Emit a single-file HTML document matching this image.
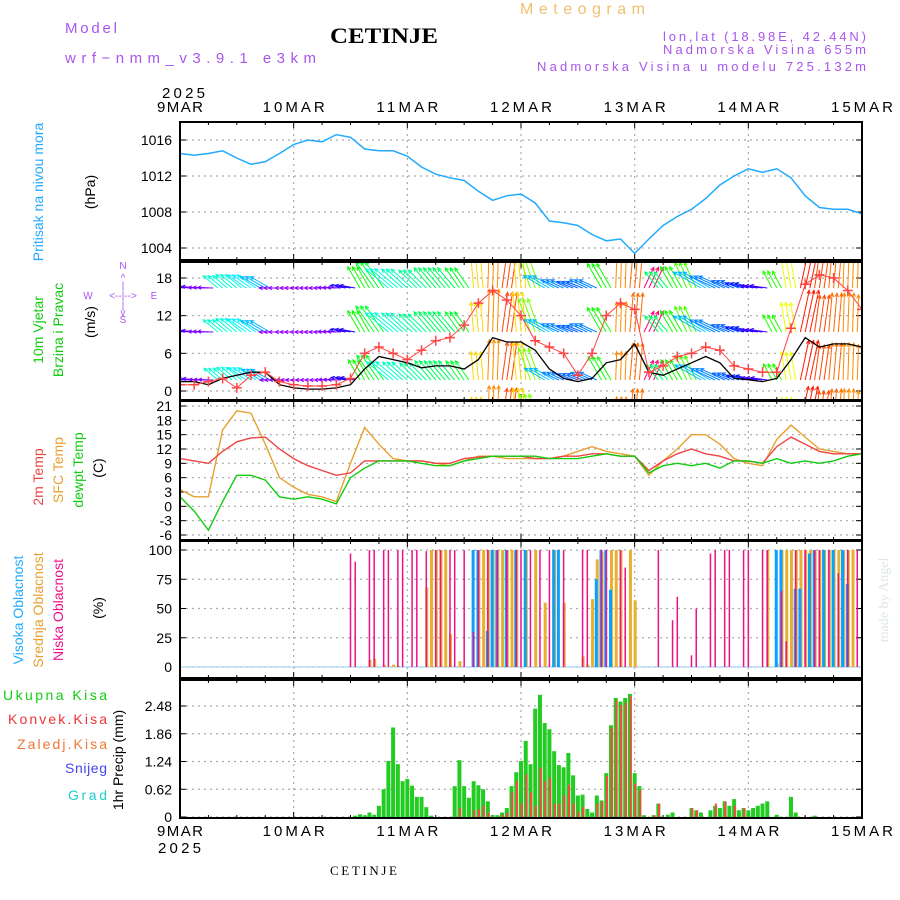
<!DOCTYPE html>
<html><head><meta charset="utf-8"><style>
body{margin:0;background:#fff;width:900px;height:900px;overflow:hidden}
svg{display:block}
text{font-family:"Liberation Sans",sans-serif}
</style></head><body>
<svg id="c" width="900" height="900" xmlns="http://www.w3.org/2000/svg">
<text x="330" y="43" font-weight="bold" font-size="22" textLength="108" lengthAdjust="spacingAndGlyphs" style="font-family:'Liberation Serif',serif">CETINJE</text>
<text x="520" y="14" font-size="16" fill="#f0c070" textLength="125" lengthAdjust="spacing">Meteogram</text>
<text x="65" y="33" font-size="15" fill="#aa55ee" textLength="52" lengthAdjust="spacing">Model</text>
<text x="65" y="63" font-size="15" fill="#aa55ee" textLength="251" lengthAdjust="spacing">wrf−nmm_v3.9.1 e3km</text>
<text x="663" y="41" font-size="13" fill="#aa55ee" textLength="203" lengthAdjust="spacing">lon,lat (18.98E, 42.44N)</text>
<text x="663" y="54" font-size="13" fill="#aa55ee" textLength="203" lengthAdjust="spacing">Nadmorska Visina 655m</text>
<text x="537" y="71" font-size="13" fill="#aa55ee" textLength="329" lengthAdjust="spacing">Nadmorska Visina u modelu 725.132m</text>
<text x="162" y="98" font-size="15" textLength="43" lengthAdjust="spacing">2025</text>
<text x="158" y="853" font-size="15" textLength="43" lengthAdjust="spacing">2025</text>
<text x="330" y="875" font-size="13" textLength="67" lengthAdjust="spacing" style="font-family:'Liberation Serif',serif">CETINJE</text>
<text transform="translate(888,600) rotate(-90)" font-size="14" fill="#dde8dd" text-anchor="middle" style="font-family:'Liberation Serif',serif">made by Angel</text>
<g font-size="14">
<text transform="translate(43,192) rotate(-90)" fill="#22aaff" text-anchor="middle">Pritisak na nivou mora</text>
<text transform="translate(95,192) rotate(-90)" text-anchor="middle">(hPa)</text>
<text transform="translate(43,330) rotate(-90)" fill="#11cc11" text-anchor="middle">10m Vjetar</text>
<text transform="translate(63,330) rotate(-90)" fill="#11cc11" text-anchor="middle">Brzina i Pravac</text>
<text transform="translate(95,322) rotate(-90)" text-anchor="middle">(m/s)</text>
<text transform="translate(43,477) rotate(-90)" fill="#ee4444" text-anchor="middle">2m Temp</text>
<text transform="translate(63,470) rotate(-90)" fill="#e8a030" text-anchor="middle">SFC Temp</text>
<text transform="translate(83,470) rotate(-90)" fill="#11cc11" text-anchor="middle">dewpt Temp</text>
<text transform="translate(103,468) rotate(-90)" text-anchor="middle">(C)</text>
<text transform="translate(23,610) rotate(-90)" fill="#22aaff" text-anchor="middle">Visoka Oblacnost</text>
<text transform="translate(43,610) rotate(-90)" fill="#e8a030" text-anchor="middle">Srednja Oblacnost</text>
<text transform="translate(63,610) rotate(-90)" fill="#ee1188" text-anchor="middle">Niska Oblacnost</text>
<text transform="translate(103,608) rotate(-90)" text-anchor="middle">(%)</text>
<text x="3" y="700" fill="#11cc11" textLength="104" lengthAdjust="spacing">Ukupna Kisa</text>
<text x="8" y="724" fill="#ee3333" textLength="99" lengthAdjust="spacing">Konvek.Kisa</text>
<text x="17" y="749" fill="#ee7733" textLength="90" lengthAdjust="spacing">Zaledj.Kisa</text>
<text x="65" y="773" fill="#4444ee" textLength="42" lengthAdjust="spacing">Snijeg</text>
<text x="68" y="800" fill="#22cccc" textLength="39" lengthAdjust="spacing">Grad</text>
<text transform="translate(123,760) rotate(-90)" text-anchor="middle">1hr Precip (mm)</text>
</g>
<g fill="#aa55ee" font-size="10" text-anchor="middle">
<text x="123" y="269">N</text><text x="123" y="281">^</text><text x="123" y="289">|</text>
<text x="88" y="299">W</text><text x="123" y="299">&lt;--|--&gt;</text><text x="154" y="299">E</text>
<text x="123" y="309">|</text><text x="123" y="316">v</text><text x="123" y="323">S</text>
</g>
<g id="plots"></g>
</svg>
<script>
// ---------- data ----------
const dayLabels = ["9MAR","10MAR","11MAR","12MAR","13MAR","14MAR","15MAR"];
const hours3 = [0,3,6,9,12,15,18,21,24,27,30,33,36,39,42,45,48,51,54,57,60,63,66,69,72,75,78,81,84,87,90,93,96,99,102,105,108,111,114,117,120,123,126,129,132,135,138,141,144];
const pressure = [1014.5,1014.3,1014.5,1014.8,1014.0,1013.3,1013.6,1014.5,1015.5,1016.0,1015.8,1016.6,1016.3,1015.0,1014.8,1014.8,1014.2,1013.0,1012.2,1011.8,1011.5,1010.3,1009.3,1009.8,1010.0,1009.0,1007.0,1006.8,1006.5,1005.5,1004.8,1005.0,1003.4,1005.0,1006.5,1007.5,1008.3,1009.5,1011.0,1012.0,1012.8,1012.4,1012.8,1011.8,1009.8,1008.5,1008.3,1008.3,1007.8];
const windSpeed = [1.5,1.5,1,2,2.5,3,3,1,0.5,0.3,0.3,0.5,1,3.5,5.5,5,4.5,3.7,4,4,3.5,5,8.5,7.8,7.8,6.5,3.5,2,1.5,2,4.5,5,7.5,3,2.5,3.5,4.5,5.5,4.5,2,1.8,1.5,2,5,8.5,7,7.5,7.5,7];
const windGust = [1,1,1.5,2,0.5,2.5,3,1.5,1,0.8,0.8,1,2,6,7,6,5,6.5,8,8.5,10.5,14,16,14.5,12,8,7,6,2.5,6,12,14,13,3,4,5.5,6,7,6.5,4,3.5,3,3,10,17,18.5,18,16,13];
const windDirToward = [175,175,178,140,140,145,150,180,180,180,180,178,170,120,125,140,138,135,130,130,125,95,88,82,95,110,150,155,158,155,120,88,85,65,130,120,115,150,155,158,165,172,118,100,78,82,85,88,88];
const temp2m = [10,9.5,9,11.5,13.5,14.3,14.5,12,10,8.5,7.5,6.5,7,9.5,9.5,9.5,9.5,9.5,9,9,10,10.3,10.5,10.5,10.5,10,10,10.5,10.5,11,11,10.5,10.5,7.5,9.5,11,12,11,10.5,9.5,9.5,9,12.5,14.5,13,11.5,11,11,11];
const tempSfc = [3.5,2,2,16,20,19.5,13,6,4,2.5,2,1,9,16.5,13,10,9.5,9.5,9,8.5,9.5,10.5,10.5,10,10,10,10,10.5,11.5,12.5,11.5,11,10.5,6.5,9.5,12,15,15,13,10,9,8.5,14,17,14.5,12,11.5,11,11];
const dewpoint = [2,-1,-5,1,6.5,6.5,5.5,2,1.5,2,1.5,0.5,6,8,9.5,9.5,9.5,9,8.5,8.5,9.5,10,10.5,10.5,10.5,10.5,10,10,10,10.5,11,10.5,10.5,7,8.5,9,8.5,9,8,9.5,9.5,9,10,9,9.5,9,9.5,10.5,11];
const cloudLowHours = [36,37,40,41,43,44,46,47,49,50,52,54,55,57,58,60,62,63,65,67,69,71,72,74,76,78,81,85,86,89,90,93,94,101,104,105,108,109,112,113,115,116,119,120,123,124,127,128,130,132,134,135,137,139,141,143];
const cloudLowVals = [97,90,100,100,100,100,100,100,100,100,99,100,100,100,100,100,30,100,100,100,100,100,100,100,100,100,100,100,100,100,100,100,85,100,40,60,10,50,97,100,100,100,100,100,100,100,65,22,100,100,100,100,100,80,100,100];
const cloudMidHours = [40,41,43,45,46,52,53,54,55,56,57,59,63,64,65,66,67,68,69,70,71,73,75,77,79,81,85,86,87,88,89,91,92,93,95,96,124,126,127,128,129,130,131,132,133,134,135,136,137,138,139,140,141,142];
const cloudMidVals = [6,7,2,2,1,68,100,100,100,100,28,5,100,100,100,100,100,100,100,100,100,100,100,55,100,55,9,2,58,92,98,100,100,100,100,57,100,3,100,100,100,100,100,100,100,100,100,100,100,100,100,100,100,100];
const cloudHighHours = [62,63,65,66,67,69,71,73,79,80,88,89,90,91,126,127,130,131,133,134,136,138,140,141];
const cloudHighVals = [100,100,31,100,100,100,100,100,100,100,75,100,100,66,100,100,67,67,97,100,100,100,100,71];
const precipHours = [37,38,39,40,41,42,43,44,45,46,47,48,49,50,51,52,53,58,59,60,61,62,63,64,65,66,67,68,69,70,71,72,73,74,75,76,77,78,79,80,81,82,83,84,85,86,87,88,89,90,91,92,93,94,95,96,97,98,100,101,103,104,108,109,110,112,113,114,115,116,117,118,119,120,121,122,123,124,126,129,130,134];
const precipTotal = [0.03,0.06,0.04,0.1,0.05,0.25,0.62,1.25,2.0,1.18,0.8,0.85,0.7,0.45,0.45,0.22,0.03,0.69,1.27,0.69,0.43,0.8,0.71,0.62,0.35,0.04,0.04,0.1,0.2,0.69,1.0,1.25,1.7,1.18,2.42,2.73,2.1,1.96,1.47,1.16,1.11,1.43,0.93,0.48,0.5,0.18,0.1,0.48,0.37,0.98,2.05,2.66,2.58,2.66,2.75,0.98,0.69,0.04,0.04,0.3,0.05,0.1,0.2,0.15,0.1,0.15,0.25,0.2,0.35,0.25,0.4,0.15,0.2,0.15,0.2,0.25,0.3,0.35,0.05,0.45,0.1,0.03];
const precipConv = [0,0,0,0,0,0,0,0,0,0,0,0,0,0,0,0,0,0,0.2,0,0,0.15,0.17,0.25,0.1,0,0,0.05,0.1,0.55,0.8,0.3,0.95,0.55,0.25,1.1,0.8,0.88,0.3,0.3,0.48,0.72,0.3,0.12,0.22,0,0,0.3,0.35,0.92,2.0,2.6,2.5,2.55,2.7,0.75,0.6,0,0.04,0.3,0,0,0.2,0.15,0,0,0.3,0,0.35,0,0.25,0,0.2,0,0,0,0,0,0,0,0,0];
const pressureTicks = [1016,1012,1008,1004];
const windTicks = [18,12,6,0];
const tempTicks = [21,18,15,12,9,6,3,0,-3,-6];
const cloudTicks = [100,75,50,25,0];
const precipTicks = [2.48,1.86,1.24,0.62,0];

// ---------- scales ----------
const X0=180, X1=862;
const x = h => X0 + h*(X1-X0)/144;
function lin(v1,p1,v2,p2){return v=>p1+(v-v1)*(p2-p1)/(v2-v1);}
const panels = [
 {name:"pressure",top:122,bot:260,y:lin(1016,140,1004,248),ticks:pressureTicks},
 {name:"wind",top:262,bot:400,y:lin(18,278,0,391),ticks:windTicks},
 {name:"temp",top:401,bot:540,y:lin(21,406,-6,535),ticks:tempTicks},
 {name:"cloud",top:541,bot:678,y:lin(100,550,0,667),ticks:cloudTicks},
 {name:"precip",top:680,bot:818,y:lin(0,817,2.48,706),ticks:precipTicks}
];
const NS="http://www.w3.org/2000/svg";
const root=document.getElementById('plots');
function mk(tag,attrs,parent){const e=document.createElementNS(NS,tag);for(const k in attrs)e.setAttribute(k,attrs[k]);(parent||root).appendChild(e);return e;}
function linePath(hs,vals,y){return hs.map((h,i)=>(i?'L':'M')+x(h).toFixed(1)+','+y(vals[i]).toFixed(1)).join('');}

const defs=mk('defs',{});
panels.forEach(p=>{const cp=mk('clipPath',{id:'clip-'+p.name},defs);mk('rect',{x:X0,y:p.top,width:X1-X0,height:p.bot-p.top},cp);});

panels.forEach(p=>{
 const g=mk('g',{});
 
 
 p.ticks.forEach(t=>{
  const yy=p.y(t);
  mk('line',{x1:X0,x2:X1,y1:yy,y2:yy,stroke:'#aaa','stroke-dasharray':'2,4','stroke-width':1.2},g);
  mk('line',{x1:X0,x2:X0+6,y1:yy,y2:yy,stroke:'#000'},g);
  mk('line',{x1:X1-6,x2:X1,y1:yy,y2:yy,stroke:'#000'},g);
  const tx=mk('text',{x:X0-8,y:yy+5,'font-size':14,'text-anchor':'end'},g);
  tx.textContent=String(t);
  
  
 });
 for(let d=1;d<6;d++){const xx=x(d*24);mk('line',{x1:xx,x2:xx,y1:p.top,y2:p.bot,stroke:'#aaa','stroke-dasharray':'2,4','stroke-width':1.2},g);}
 for(let h=0;h<=144;h+=6){const xx=x(h);const L=h%24===0?6:3;mk('line',{x1:xx,x2:xx,y1:p.top,y2:p.top+L,stroke:'#000'},g);mk('line',{x1:xx,x2:xx,y1:p.bot-L,y2:p.bot,stroke:'#000'},g);}
});

const pp=mk('path',{d:linePath(hours3,pressure,panels[0].y),fill:'none',stroke:'#22aaff','stroke-width':1.5,'clip-path':'url(#clip-pressure)'});



const wp=panels[1];
const wg=mk('g',{'clip-path':'url(#clip-wind)'});


function dirColor(a){let h=38+(a-90)*2.63;if(h<0)h+=360;return 'hsl('+h.toFixed(0)+',100%,50%)';}
const rowBase=[288,332,380,424];
const rowScale=[1.0,1.0,0.95,0.9];
for(let h=0;h<=144;h++){
 const i=Math.min(hours3.length-1,Math.round(h/3));
 const a=windDirToward[i]*Math.PI/180, s=windSpeed[i];
 const col=dirColor(windDirToward[i]);
 rowBase.forEach((b,r)=>{
  const len=(12+s*3.6)*rowScale[r];
  const x0=x(h), y0=b, x1=x0+len*Math.cos(a), y1=y0-len*Math.sin(a);
  const hl=4, ang=Math.atan2(y1-y0,x1-x0);
  const d='M'+x0.toFixed(1)+','+y0+'L'+x1.toFixed(1)+','+y1.toFixed(1)+
   'M'+(x1-hl*Math.cos(ang-0.45)).toFixed(1)+','+(y1-hl*Math.sin(ang-0.45)).toFixed(1)+'L'+x1.toFixed(1)+','+y1.toFixed(1)+
   'L'+(x1-hl*Math.cos(ang+0.45)).toFixed(1)+','+(y1-hl*Math.sin(ang+0.45)).toFixed(1);
  const ar=mk('path',{d:d,stroke:col,'stroke-width':1,fill:'none'},wg);
  
  
 });
}
const ws=mk('path',{d:linePath(hours3,windSpeed,wp.y),fill:'none',stroke:'#000','stroke-width':1.3,'clip-path':'url(#clip-wind)'});


const gl=mk('path',{d:linePath(hours3,windGust,wp.y),fill:'none',stroke:'#ff4444','stroke-width':1,'clip-path':'url(#clip-wind)'});


hours3.forEach((h,i)=>{
 const xx=x(h), yy=wp.y(windGust[i]);
 const m=mk('path',{d:`M${xx-5},${yy}H${xx+5}M${xx},${yy-5}V${yy+5}`,stroke:'#ff4444','stroke-width':1.5,'clip-path':'url(#clip-wind)'});
 
 
});

const tp=panels[2];
[[tempSfc,'#e8a030','sfc-temp-line'],[temp2m,'#ee4444','2m-temp-line'],[dewpoint,'#11cc11','dewpoint-line']].forEach(([arr,c,n])=>{
 const e=mk('path',{d:linePath(hours3,arr,tp.y),fill:'none',stroke:c,'stroke-width':1.4,'clip-path':'url(#clip-temp)'});
 
 
});

const cp=panels[3];
const z0=cp.y(0);
const zl=mk('line',{x1:X0,x2:X1,y1:z0,y2:z0,stroke:'#99ccee','stroke-width':1});


[[cloudMidHours,cloudMidVals,'#e8b030',3,0.5,'cloud-mid-bar'],[cloudHighHours,cloudHighVals,'#0aa0ff',3,-0.5,'cloud-high-bar'],[cloudLowHours,cloudLowVals,'#ee1188',1.5,0,'cloud-low-bar']].forEach(([hs,vs,c,w,off,n])=>{
 hs.forEach((h,i)=>{
  const yy=cp.y(vs[i]);
  const r=mk('rect',{x:x(h)+off-w/2,y:yy,width:w,height:z0-yy,fill:c});
  
  
 });
});

const pr=panels[4];
const p0=pr.y(0);
precipHours.forEach((h,i)=>{
 const yy=pr.y(precipTotal[i]);
 const r=mk('rect',{x:x(h)-2,y:yy,width:4,height:p0-yy,fill:'#22cc22'});
 
 
 if(precipConv[i]>0){
  const yc=pr.y(precipConv[i]);
  const rc=mk('rect',{x:x(h)-0.3,y:yc,width:2,height:p0-yc,fill:'#ff4444'});
  
  
 }
});

panels.forEach(p=>{
 const f=mk('rect',{x:X0,y:p.top,width:X1-X0,height:p.bot-p.top,fill:'none',stroke:'#000','stroke-width':2});
 
 
});

dayLabels.forEach((d,i)=>{
 const w=d.length>4?62:46;
 const t1=mk('text',{x:x(i*24)-w/2,y:112,'font-size':15,textLength:w,lengthAdjust:'spacing'});
 t1.textContent=d;
 
 
 const t2=mk('text',{x:x(i*24)-w/2,y:836,'font-size':15,textLength:w,lengthAdjust:'spacing'});
 t2.textContent=d;
 
 
});
</script>
</body></html>
